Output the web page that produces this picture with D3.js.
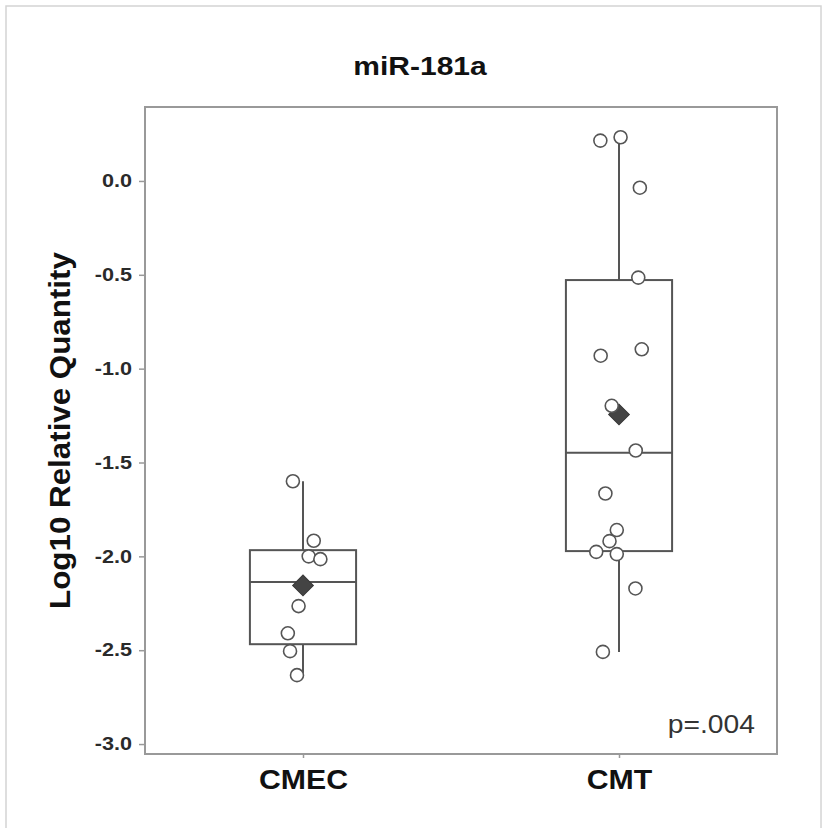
<!DOCTYPE html>
<html>
<head>
<meta charset="utf-8">
<script src="https://cdn.jsdelivr.net/npm/d3@7"></script>
<style>
  body { margin: 0; background: #fff; }
</style>
</head>
<body>
<div id="chart-area"></div>
<script>
// data
const categories = ["CMEC", "CMT"];
const cmecValues = [-1.60, -1.917, -2.00, -2.015, -2.265, -2.41, -2.505, -2.633];
const cmecJitter = [-0.032, 0.034, 0.018, 0.055, -0.014, -0.048, -0.041, -0.019];
const cmtValues = [0.233, 0.215, -0.036, -0.515, -0.897, -0.931, -1.198, -1.436,
  -1.665, -1.86, -1.919, -1.976, -1.988, -2.171, -2.509];
const cmtJitter = [0.005, -0.059, 0.066, 0.061, 0.072, -0.058, -0.023, 0.053,
  -0.043, -0.007, -0.030, -0.072, -0.007, 0.052, -0.051];
// box stats: [whisker low, Q1, median, Q3, whisker high]
const cmecBox = [-2.64, -2.468, -2.137, -1.967, -1.60];
const cmtBox = [-2.51, -1.972, -1.448, -0.528, 0.229];
const means = [-2.155, -1.244];
const yTicks = [0.0, -0.5, -1.0, -1.5, -2.0, -2.5, -3.0];
const yDomain = [-3.053, 0.394];
const pValue = "p=.004";

const svgWidth = 823, svgHeight = 828;
const margins = { top: 107, bottom: 74, left: 145, right: 46 };
const chartWidth = svgWidth - margins.left - margins.right;
const chartHeight = svgHeight - margins.top - margins.bottom;
const ink = "#555";

const canvas = d3.select("#chart-area")
  .append("svg")
    .attr("width", svgWidth)
    .attr("height", svgHeight);

// outer frame of the original figure
canvas.append("rect")
  .attr("x", 6).attr("y", 6)
  .attr("width", 815).attr("height", 840)
  .attr("fill", "none")
  .attr("stroke", "#d4d4d4")
  .attr("stroke-width", 1.5);

const chart = canvas.append("g")
  .attr("transform", `translate(${margins.left},${margins.top})`);

// stretch text horizontally to match the wide glyphs in the reference
function stretch(sel, k) {
  sel.each(function () {
    const w = this.getComputedTextLength();
    d3.select(this)
      .attr("textLength", w * k)
      .attr("lengthAdjust", "spacingAndGlyphs");
  });
}

const x = d3.scaleLinear()
  .domain([-0.5, categories.length - 0.5])
  .range([0, chartWidth]);
const y = d3.scaleLinear()
  .domain(yDomain)
  .range([chartHeight, 0]);
const boxHalf = 0.168;

// axes
const yAxis = chart.append("g")
  .call(d3.axisLeft(y).tickValues(yTicks).tickFormat(d => d.toFixed(1))
    .tickSizeInner(6).tickSizeOuter(0).tickPadding(7));
yAxis.select(".domain").remove();
yAxis.selectAll("line").attr("stroke", "#999").attr("stroke-width", 1.5);
yAxis.selectAll("text")
  .attr("fill", "#2a2a2a")
  .attr("font-family", "Liberation Sans, Arial, sans-serif")
  .attr("font-size", 18)
  .attr("font-weight", 700)
  .call(stretch, 1.2);

const xAxis = chart.append("g")
  .attr("transform", `translate(0,${chartHeight})`)
  .call(d3.axisBottom(x).tickValues(d3.range(categories.length))
    .tickFormat(i => categories[i]).tickSizeInner(4).tickSizeOuter(0).tickPadding(10));
xAxis.select(".domain").remove();
xAxis.selectAll("line").attr("stroke", "#999").attr("stroke-width", 1.5);
xAxis.selectAll("text")
  .attr("fill", "#111")
  .attr("dy", 0)
  .attr("y", 35)
  .attr("font-family", "Liberation Sans, Arial, sans-serif")
  .attr("font-size", 27)
  .attr("font-weight", 700)
  .call(stretch, 1.12);

// plot frame
chart.append("rect")
  .attr("width", chartWidth)
  .attr("height", chartHeight)
  .attr("fill", "none")
  .attr("stroke", "#999")
  .attr("stroke-width", 2);

// boxes
const groups = [
  { box: cmecBox, values: cmecValues, jitter: cmecJitter, mean: means[0] },
  { box: cmtBox, values: cmtValues, jitter: cmtJitter, mean: means[1] }
];

groups.forEach((g, i) => {
  const [lo, q1, med, q3, hi] = g.box;
  const grp = chart.append("g")
    .attr("stroke", ink)
    .attr("stroke-width", 2)
    .attr("fill", "none");
  grp.append("line")
    .attr("x1", x(i)).attr("x2", x(i))
    .attr("y1", y(q3)).attr("y2", y(hi));
  grp.append("line")
    .attr("x1", x(i)).attr("x2", x(i))
    .attr("y1", y(q1)).attr("y2", y(lo));
  grp.append("rect")
    .attr("x", x(i - boxHalf))
    .attr("y", y(q3))
    .attr("width", x(i + boxHalf) - x(i - boxHalf))
    .attr("height", y(q1) - y(q3));
  grp.append("line")
    .attr("x1", x(i - boxHalf)).attr("x2", x(i + boxHalf))
    .attr("y1", y(med)).attr("y2", y(med));

  // mean diamond
  chart.append("path")
    .attr("d", d3.symbol(d3.symbolSquare, 215)())
    .attr("transform", `translate(${x(i)},${y(g.mean)}) rotate(45)`)
    .attr("fill", "#444")
    .attr("stroke", "#3a3a3a")
    .attr("stroke-width", 1);

  // individual points
  chart.append("g").selectAll("circle")
    .data(g.values)
    .enter()
    .append("circle")
      .attr("cx", (d, j) => x(i + g.jitter[j]))
      .attr("cy", d => y(d))
      .attr("r", 6.5)
      .attr("fill", "#fff")
      .attr("stroke", ink)
      .attr("stroke-width", 1.6);
});

// p-value
chart.append("text")
  .text(pValue)
  .attr("x", chartWidth - 22)
  .attr("y", 626)
  .attr("text-anchor", "end")
  .attr("fill", "#333")
  .attr("font-family", "Liberation Sans, Arial, sans-serif")
  .attr("font-size", 25)
  .call(stretch, 1.13);

// title
canvas.append("text")
  .text("miR-181a")
  .attr("x", 420)
  .attr("y", 75)
  .attr("text-anchor", "middle")
  .attr("fill", "#111")
  .attr("font-family", "Liberation Sans, Arial, sans-serif")
  .attr("font-size", 25)
  .attr("font-weight", 700)
  .call(stretch, 1.2);

// y label
canvas.append("text")
  .text("Log10 Relative Quantity")
  .attr("transform", `translate(70,${margins.top + chartHeight / 2}) rotate(-90)`)
  .attr("text-anchor", "middle")
  .attr("fill", "#111")
  .attr("font-family", "Liberation Sans, Arial, sans-serif")
  .attr("font-size", 29)
  .attr("font-weight", 700)
  .call(stretch, 1.08);
</script>
</body>
</html>
